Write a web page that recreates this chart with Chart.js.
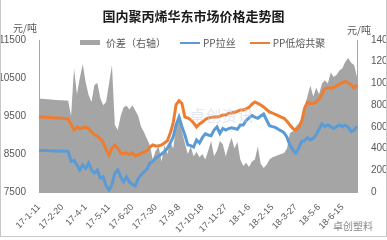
<!DOCTYPE html>
<html lang="zh">
<head>
<meta charset="UTF-8">
<title>国内聚丙烯华东市场价格走势图</title>
<script src="https://cdn.jsdelivr.net/npm/chart.js@4.4.0/dist/chart.umd.min.js"></script>
<style>
    body { margin: 0; background: #fff; }
    #wrap { position: relative; width: 387px; height: 240px; overflow: hidden; font-family: "Noto Sans CJK SC", sans-serif; color: #595959; }
    #wrap canvas { position: absolute; left: 0; top: 0; }
    .frame { position: absolute; left: 0; top: 0; width: 385px; height: 236px; border: 1px solid #c8c8c8; border-top: none; pointer-events: none; }
    .title { position: absolute; left: 0; width: 387px; top: 6px; text-align: center; font-size: 13px; font-weight: bold; color: #1a1a1a; }
    .unit { position: absolute; font-size: 10px; }
    .legend { position: absolute; top: 35px; left: 80px; font-size: 10px; display: flex; align-items: center; white-space: nowrap; }
    .legend span.item { display: flex; align-items: center; margin-right: 14px; }
    .legend i { display: inline-block; width: 20px; margin-right: 3px; }
    .mark { position: absolute; left: 190px; top: 104px; font-size: 15px; color: rgba(200, 210, 228, 0.55); letter-spacing: 1px; }
    .credit { position: absolute; left: 333px; top: 218px; font-size: 10px; color: #8a8a8a; }
</style>
</head>
<body>
<div id="wrap">
    <canvas id="c" width="387" height="240"></canvas>
    <div class="title">国内聚丙烯华东市场价格走势图</div>
    <div class="unit" style="left:13px;top:20px">元/吨</div>
    <div class="unit" style="left:347px;top:22px">元/吨</div>
    <div class="legend" id="legend"></div>
    <div class="mark">卓创资讯</div>
    <div class="credit">卓创塑料</div>
    <div class="frame"></div>
</div>
<script>
// 数据：从 17-1-11 开始，每 5 天一个点
const startDate = new Date(2017, 0, 11, 12);
const stepDays = 5;
const labelEvery = 8;

const ppLasi = [
    8590, 8590, 8590, 8585, 8585, 8580, 8580, 8580, 8575, 8575,
    8570, 8300, 8330, 8210, 8079, 8210, 8120, 8263, 8079, 8000,
    8079, 7868, 7900, 7660, 7550, 7700, 8000, 8079, 7900, 7763,
    7900, 7763, 7700, 7660, 7850, 7950, 8030, 8100, 8263, 8300,
    8395, 8440, 8500, 8560, 8650, 8790, 8947, 9270, 9470, 9220,
    9000, 8740, 8720, 8684, 8868, 8790, 8930, 9030, 9000, 8980,
    9130, 9211, 9040, 9170, 9130, 9170, 9190, 9170, 9150, 9263,
    9263, 9380, 9450, 9510, 9470, 9440, 9500, 9553, 9395, 9245,
    9220, 9200, 9150, 9110, 9060, 8940, 8737, 8605, 8526, 8650,
    8830, 8850, 8930, 8870, 8910, 9000, 9150, 9290, 9220, 9263,
    9220, 9170, 9220, 9263, 9220, 9263, 9200, 9090, 9130, 9230
];

const ppDirong = [
    9480, 9475, 9470, 9465, 9460, 9455, 9450, 9445, 9440, 9430,
    9420, 9280, 9130, 9211, 9170, 9190, 9211, 9170, 9080, 9010,
    8970, 8900, 8800, 8610, 8470, 8650, 8737, 8650, 8526, 8500,
    8526, 8480, 8526, 8447, 8474, 8526, 8550, 8590, 8680, 8737,
    8710, 8710, 8737, 8790, 8850, 9050, 9316, 9800, 9900, 9830,
    9470, 9450, 9400, 9316, 9211, 9290, 9340, 9410, 9450, 9460,
    9474, 9474, 9490, 9526, 9530, 9570, 9580, 9600, 9620, 9658,
    9658, 9690, 9730, 9810, 9868, 9830, 9790, 9737, 9670, 9610,
    9579, 9540, 9510, 9470, 9440, 9360, 9263, 9170, 9130, 9190,
    9350, 9700, 9868, 9830, 9830, 9870, 9950, 10070, 10220, 10237,
    10237, 10250, 10290, 10340, 10380, 10410, 10370, 10320, 10237, 10320
];

const jiacha = [
    860, 858, 856, 854, 852, 850, 848, 846, 844, 842,
    840, 700, 1140, 900, 1050, 1180, 1010, 893, 830, 985,
    1004, 866, 800, 830, 1000, 1170, 617, 570, 700, 780,
    795, 760, 800, 750, 700, 600, 550, 490, 430, 300,
    380, 420, 280, 430, 350, 460, 400, 600, 660, 560,
    450, 350, 420, 330, 370, 320, 350, 300, 380, 470,
    330, 380, 470, 440, 330, 420, 500, 400, 460, 300,
    240, 270, 230, 280, 300, 420, 260, 220, 250, 300,
    320, 330, 340, 350, 360, 400, 540, 560, 600, 630,
    680, 760, 880, 980, 880, 960, 900, 1000, 1030, 1000,
    1100, 1060, 1080, 1120, 1140, 1200, 1235, 1190, 1170, 1060
];

const leftTicks = { min: 7500, max: 11500, step: 1000 };
const rightTicks = { min: 0, max: 1400, step: 200 };

const labels = jiacha.map((v, i) => {
    const d = new Date(startDate.getTime());
    d.setDate(d.getDate() + i * stepDays);
    return (d.getFullYear() % 100) + '-' + (d.getMonth() + 1) + '-' + d.getDate();
});

const tickFont = { family: 'Liberation Sans, Arial, sans-serif', size: 10 };
const axisColor = '#a6a6a6';
const textColor = '#595959';

const datasets = [
    {
        label: '价差（右轴）', data: jiacha, yAxisID: 'yR', order: 3,
        backgroundColor: '#a5a5a5', borderWidth: 0, fill: 'origin', pointRadius: 0, tension: 0
    },
    {
        label: 'PP拉丝', data: ppLasi, yAxisID: 'yL', order: 1,
        borderColor: '#5b9bd5', borderWidth: 3, fill: false, pointRadius: 0, tension: 0
    },
    {
        label: 'PP低熔共聚', data: ppDirong, yAxisID: 'yL', order: 2,
        borderColor: '#ed7d31', borderWidth: 3, fill: false, pointRadius: 0, tension: 0
    }
];

// 图例
const legend = document.getElementById('legend');
datasets.forEach(ds => {
    const item = document.createElement('span');
    item.className = 'item';
    const sw = document.createElement('i');
    if (ds.fill) {
        sw.style.height = '5px';
        sw.style.background = ds.backgroundColor;
        sw.style.marginRight = '6px';
    } else {
        sw.style.height = '2px';
        sw.style.background = ds.borderColor;
    }
    item.appendChild(sw);
    item.appendChild(document.createTextNode(ds.label));
    legend.appendChild(item);
});

new Chart(document.getElementById('c'), {
    type: 'line',
    data: { labels: labels, datasets: datasets },
    options: {
        responsive: false,
        animation: false,
        layout: { padding: { top: 40, left: 0, right: 0, bottom: 0 } },
        plugins: { legend: { display: false }, title: { display: false }, tooltip: { enabled: false } },
        scales: {
            x: {
                grid: { display: false },
                border: { display: true, color: axisColor },
                afterFit: s => { s.height = 48; },
                ticks: {
                    autoSkip: false, maxRotation: 45, minRotation: 45, padding: 2,
                    color: textColor, font: { family: tickFont.family, size: 9 },
                    callback: function (v, i) { return i % labelEvery === 0 ? labels[i] : ''; }
                }
            },
            yL: {
                position: 'left', min: leftTicks.min, max: leftTicks.max,
                grid: { display: false },
                border: { display: true, color: axisColor },
                afterFit: s => { s.width = 39; },
                ticks: { stepSize: leftTicks.step, color: textColor, font: tickFont, padding: 5, callback: v => String(v) }
            },
            yR: {
                position: 'right', min: rightTicks.min, max: rightTicks.max,
                grid: { display: false },
                border: { display: true, color: axisColor },
                afterFit: s => { s.width = 30; },
                ticks: { stepSize: rightTicks.step, color: textColor, font: tickFont, padding: 6, callback: v => String(v) }
            }
        }
    }
});
</script>
</body>
</html>
